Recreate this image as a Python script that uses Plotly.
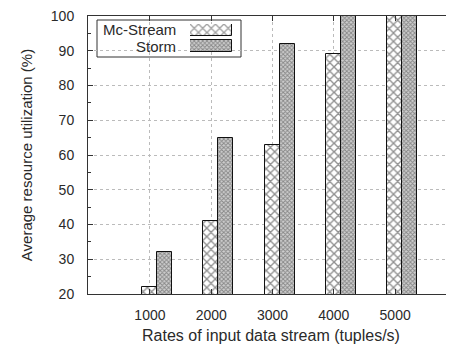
import plotly.graph_objects as go

categories = [1, 2, 3, 4, 5]
tick_labels = ["1000", "2000", "3000", "4000", "5000"]
mc_stream = [22, 41, 63, 89, 100]
storm = [32, 65, 92, 100, 100]
series_names = ["Mc-Stream", "Storm"]

FONT = "Liberation Sans, Arial, sans-serif"
TXT = "#2a2a2a"

mc_pattern = dict(shape="x", size=6, solidity=0.4, fgcolor="#222222", bgcolor="white", fillmode="overlay")
st_pattern = dict(shape="x", size=3, solidity=0.55, fgcolor="#444444", bgcolor="#cfcfcf", fillmode="overlay")

fig = go.Figure()
fig.add_trace(go.Bar(x=categories, y=mc_stream, name=series_names[0], offset=-0.13, width=0.245,
                     marker=dict(color="white", pattern=mc_pattern, line=dict(color="#111111", width=1)),
                     showlegend=False))
fig.add_trace(go.Bar(x=categories, y=storm, name=series_names[1], offset=0.115, width=0.245,
                     marker=dict(color="#cfcfcf", pattern=st_pattern, line=dict(color="#111111", width=1)),
                     showlegend=False))

# legend swatches drawn on an overlay axis
fig.add_trace(go.Bar(x=[1, 1], y=[1, 0], orientation="h", width=0.7, xaxis="x2", yaxis="y2",
                     marker=dict(color=["white", "#cfcfcf"],
                                 pattern=dict(shape="x", size=[6, 3], solidity=[0.4, 0.55],
                                              fgcolor=["#222222", "#444444"], bgcolor=["white", "#cfcfcf"],
                                              fillmode="overlay"),
                                 line=dict(color="#111111", width=1)),
                     showlegend=False, hoverinfo="skip"))

OFF = 8  # default page body margin
W, H = 454 - OFF, 352 - 2 * OFF
L, T = 88 - OFF, 16 - OFF
B = H - (294 - OFF)
PW, PH = W - L, H - T - B

def px(x):  # page pixel -> paper fraction
    return (x - OFF - L) / PW

def py(y):
    return (H - B - (y - OFF)) / PH

fig.update_layout(
    width=W, height=H,
    margin=dict(l=L, r=0, t=T, b=B, autoexpand=False),
    paper_bgcolor="white", plot_bgcolor="white",
    font=dict(family=FONT, size=14, color=TXT),
    bargap=0,
    xaxis=dict(range=[-0.01, 5.96], tickvals=categories, ticktext=tick_labels, automargin=False,
               showline=True, linecolor="#333333", linewidth=1, mirror="ticks",
               ticks="inside", ticklen=5, tickcolor="#333333", ticklabelstandoff=8,
               ticklabeloverflow="allow",
               showgrid=True, gridcolor="#bbbbbb", griddash="dot", gridwidth=1,
               zeroline=False, tickfont=dict(size=14),
               title=dict(text="Rates of input data stream (tuples/s)", standoff=8, font=dict(size=16))),
    yaxis=dict(range=[20, 100], tickvals=[20, 30, 40, 50, 60, 70, 80, 90, 100], automargin=False,
               showline=True, linecolor="#333333", linewidth=1, mirror=False,
               ticks="inside", ticklen=5, tickcolor="#333333", ticklabelstandoff=10,
               ticklabeloverflow="allow",
               minor=dict(dtick=5, ticks="inside", ticklen=3, tickcolor="#333333", showgrid=False),
               showgrid=True, gridcolor="#bbbbbb", griddash="dot", gridwidth=1,
               zeroline=False, tickfont=dict(size=14),
               title=dict(text="Average resource utilization (%)", standoff=14, font=dict(size=15))),
    xaxis2=dict(domain=[px(190), px(232)], range=[0, 1], visible=False, anchor="y2", fixedrange=True),
    yaxis2=dict(domain=[py(52), py(24)], range=[-0.36, 1.36], visible=False, anchor="x2", fixedrange=True),
    shapes=[dict(type="rect", xref="paper", yref="paper", x0=px(97), x1=px(241), y0=py(57), y1=py(20),
                 line=dict(color="#333333", width=1), fillcolor="white", layer="between")],
    annotations=[
        dict(text=series_names[0], xref="paper", yref="paper", x=px(178), y=py(29), xanchor="right",
             yanchor="middle", showarrow=False, font=dict(size=15, family=FONT, color=TXT)),
        dict(text=series_names[1], xref="paper", yref="paper", x=px(178), y=py(47), xanchor="right",
             yanchor="middle", showarrow=False, font=dict(size=15, family=FONT, color=TXT)),
    ],
)

fig.write_html("out.html")
